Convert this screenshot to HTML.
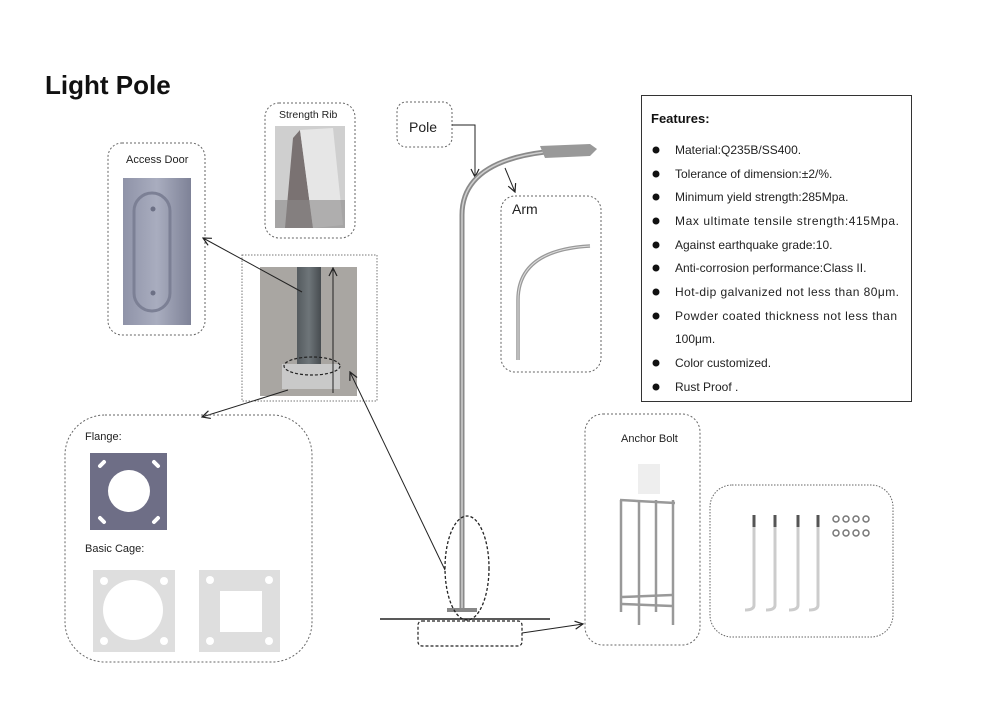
<!DOCTYPE html>
<html><head><meta charset="utf-8"><style>
html,body{margin:0;padding:0;background:#fff;}
svg{display:block;font-family:"Liberation Sans",sans-serif;}
</style></head><body>
<svg width="985" height="706" viewBox="0 0 985 706" xmlns="http://www.w3.org/2000/svg">
<defs>
<marker id="ar" markerWidth="10" markerHeight="10" refX="9" refY="5" orient="auto" markerUnits="userSpaceOnUse">
<path d="M1,1 L9,5 L1,9" fill="none" stroke="#222" stroke-width="1.2"/></marker>
<linearGradient id="door" x1="0" x2="1"><stop offset="0" stop-color="#8f93a8"/><stop offset="0.5" stop-color="#a9adbf"/><stop offset="1" stop-color="#7e8297"/></linearGradient>
<linearGradient id="pole" x1="0" x2="1"><stop offset="0" stop-color="#555b5f"/><stop offset="0.5" stop-color="#6e7579"/><stop offset="1" stop-color="#474c50"/></linearGradient>
</defs>
<rect width="985" height="706" fill="#fff"/>
<text x="45" y="94" font-size="26" font-weight="bold" fill="#111">Light Pole</text>

<!-- Access door -->
<rect x="108" y="143" width="97" height="192" rx="14" fill="none" stroke="#666" stroke-dasharray="2,2"/>
<text x="126" y="163" font-size="11" fill="#222">Access Door</text>
<rect x="123" y="178" width="68" height="147" fill="url(#door)"/>
<rect x="134" y="193" width="36" height="118" rx="18" fill="none" stroke="#7c8095" stroke-width="3"/>
<circle cx="153" cy="209" r="2.5" fill="#6c7085"/><circle cx="153" cy="293" r="2.5" fill="#6c7085"/>

<!-- Strength rib -->
<rect x="265" y="103" width="90" height="135" rx="14" fill="none" stroke="#666" stroke-dasharray="2,2"/>
<text x="279" y="118" font-size="10.5" fill="#222">Strength Rib</text>
<rect x="275" y="126" width="70" height="102" fill="#cfcfcf"/>
<polygon points="293,138 300,130 313,228 285,228" fill="#7a7272"/>
<polygon points="300,130 333,128 343,225 313,228" fill="#e6e6e6"/>
<rect x="275" y="200" width="70" height="28" fill="#8b8888" opacity="0.6"/>

<!-- Pole label -->
<rect x="397" y="102" width="55" height="45" rx="9" fill="none" stroke="#666" stroke-dasharray="2,2"/>
<text x="409" y="132" font-size="14" fill="#222">Pole</text>
<polyline points="452,125 475,125 475,177" fill="none" stroke="#222" stroke-width="1" marker-end="url(#ar)"/>

<!-- photo box -->
<rect x="242" y="255" width="135" height="146" fill="none" stroke="#777" stroke-dasharray="1.5,1.5"/>
<rect x="260" y="267" width="97" height="129" fill="#a9a6a2"/>
<rect x="297" y="267" width="24" height="104" fill="url(#pole)"/>
<rect x="282" y="364" width="58" height="25" fill="#c9c9c9"/>
<ellipse cx="312" cy="366" rx="28" ry="9" fill="none" stroke="#222" stroke-width="1.2" stroke-dasharray="3,2"/>
<line x1="333" y1="393" x2="333" y2="268" stroke="#222" stroke-width="1" marker-end="url(#ar)"/>
<line x1="302" y1="292" x2="203" y2="238" stroke="#222" stroke-width="1" marker-end="url(#ar)"/>
<line x1="288" y1="390" x2="202" y2="417" stroke="#222" stroke-width="1" marker-end="url(#ar)"/>
<line x1="445" y1="570" x2="350" y2="372" stroke="#222" stroke-width="1" marker-end="url(#ar)"/>

<!-- Main pole -->
<path d="M462,612 L462,215 Q462,162 545,152" fill="none" stroke="#8a8a8a" stroke-width="5"/>
<path d="M462,612 L462,215 Q462,162 545,152" fill="none" stroke="#cfcfcf" stroke-width="1.5"/>
<polygon points="540,146 590,144 597,149 590,156 545,158" fill="#999"/>
<rect x="447" y="608" width="30" height="4" fill="#888"/>
<line x1="505" y1="168" x2="515" y2="192" stroke="#222" stroke-width="1" marker-end="url(#ar)"/>

<!-- Arm box -->
<rect x="501" y="196" width="100" height="176" rx="14" fill="none" stroke="#666" stroke-dasharray="2,2"/>
<text x="512" y="214" font-size="14" fill="#222">Arm</text>
<path d="M518,360 L518,300 Q518,250 590,246" fill="none" stroke="#999" stroke-width="3.5"/>
<path d="M518,360 L518,300 Q518,250 590,246" fill="none" stroke="#ddd" stroke-width="1"/>

<!-- Features -->
<rect x="641.5" y="95.5" width="270" height="306" fill="none" stroke="#333" stroke-width="1"/>
<text x="651" y="123" font-size="13" font-weight="bold" fill="#111">Features:</text>
<g font-size="12" fill="#222">
<circle cx="656" cy="150" r="3.5" fill="#111"/><text x="675" y="154">Material:Q235B/SS400.</text>
<circle cx="656" cy="174" r="3.5" fill="#111"/><text x="675" y="178">Tolerance of dimension:±2/%.</text>
<circle cx="656" cy="197" r="3.5" fill="#111"/><text x="675" y="201">Minimum yield strength:285Mpa.</text>
<circle cx="656" cy="221" r="3.5" fill="#111"/><text x="675" y="225" textLength="224">Max ultimate tensile strength:415Mpa.</text>
<circle cx="656" cy="245" r="3.5" fill="#111"/><text x="675" y="249">Against earthquake grade:10.</text>
<circle cx="656" cy="268" r="3.5" fill="#111"/><text x="675" y="272">Anti-corrosion performance:Class II.</text>
<circle cx="656" cy="292" r="3.5" fill="#111"/><text x="675" y="296" textLength="224">Hot-dip galvanized not less than 80μm.</text>
<circle cx="656" cy="316" r="3.5" fill="#111"/><text x="675" y="320" textLength="222">Powder coated thickness not less than</text>
<text x="675" y="343">100μm.</text>
<circle cx="656" cy="363" r="3.5" fill="#111"/><text x="675" y="367">Color customized.</text>
<circle cx="656" cy="387" r="3.5" fill="#111"/><text x="675" y="391">Rust Proof .</text>
</g>

<!-- Flange box -->
<rect x="65" y="415" width="247" height="247" rx="40" fill="none" stroke="#666" stroke-dasharray="2,2"/>
<text x="85" y="440" font-size="11" fill="#222">Flange:</text>
<rect x="90" y="453" width="77" height="77" fill="#6e6e86"/>
<circle cx="129" cy="491" r="21" fill="#fff"/>
<g stroke="#fff" stroke-width="4" stroke-linecap="round">
<line x1="100" y1="466" x2="104" y2="462"/><line x1="154" y1="462" x2="158" y2="466"/>
<line x1="100" y1="518" x2="104" y2="522"/><line x1="154" y1="522" x2="158" y2="518"/></g>
<text x="85" y="552" font-size="11" fill="#222">Basic Cage:</text>
<rect x="93" y="570" width="82" height="82" fill="#dedede"/>
<circle cx="133" cy="610" r="30" fill="#fff"/>
<g fill="#fff"><circle cx="104" cy="581" r="4"/><circle cx="164" cy="581" r="4"/><circle cx="104" cy="641" r="4"/><circle cx="164" cy="641" r="4"/></g>
<rect x="199" y="570" width="81" height="82" fill="#dedede"/>
<rect x="220" y="591" width="42" height="41" fill="#fff"/>
<g fill="#fff"><circle cx="210" cy="580" r="4"/><circle cx="269" cy="580" r="4"/><circle cx="210" cy="641" r="4"/><circle cx="269" cy="641" r="4"/></g>

<!-- ground -->
<line x1="380" y1="619" x2="550" y2="619" stroke="#222" stroke-width="1.5"/>
<ellipse cx="467" cy="568" rx="22" ry="52" fill="none" stroke="#222" stroke-width="1.3" stroke-dasharray="3,2"/>
<rect x="418" y="621" width="104" height="25" rx="4" fill="none" stroke="#222" stroke-width="1.2" stroke-dasharray="3,2"/>
<line x1="522" y1="633" x2="583" y2="624" stroke="#222" stroke-width="1" marker-end="url(#ar)"/>

<!-- Anchor bolt -->
<rect x="585" y="414" width="115" height="231" rx="18" fill="none" stroke="#666" stroke-dasharray="2,2"/>
<text x="621" y="442" font-size="11" fill="#222">Anchor Bolt</text>
<rect x="638" y="464" width="22" height="30" fill="#eee"/>
<g stroke="#999" stroke-width="2.5">
<line x1="621" y1="500" x2="621" y2="612"/><line x1="639" y1="500" x2="639" y2="625"/>
<line x1="656" y1="500" x2="656" y2="612"/><line x1="673" y1="500" x2="673" y2="625"/>
<line x1="620" y1="500" x2="675" y2="503"/><line x1="622" y1="597" x2="672" y2="595"/><line x1="622" y1="604" x2="672" y2="606"/></g>

<!-- bolts -->
<rect x="710" y="485" width="183" height="152" rx="22" fill="none" stroke="#666" stroke-dasharray="1.5,1.5"/>
<g stroke="#ccc" stroke-width="3" fill="none">
<path d="M754,515 L754,605 Q754,610 745,610"/><path d="M775,515 L775,605 Q775,610 766,610"/>
<path d="M798,515 L798,605 Q798,610 789,610"/><path d="M818,515 L818,605 Q818,610 809,610"/></g>
<g stroke="#555" stroke-width="3"><line x1="754" y1="515" x2="754" y2="527"/><line x1="775" y1="515" x2="775" y2="527"/><line x1="798" y1="515" x2="798" y2="527"/><line x1="818" y1="515" x2="818" y2="527"/></g>
<g fill="none" stroke="#777" stroke-width="1.5">
<circle cx="836" cy="519" r="3"/><circle cx="846" cy="519" r="3"/><circle cx="856" cy="519" r="3"/><circle cx="866" cy="519" r="3"/>
<circle cx="836" cy="533" r="3"/><circle cx="846" cy="533" r="3"/><circle cx="856" cy="533" r="3"/><circle cx="866" cy="533" r="3"/></g>
</svg>
</body></html>
